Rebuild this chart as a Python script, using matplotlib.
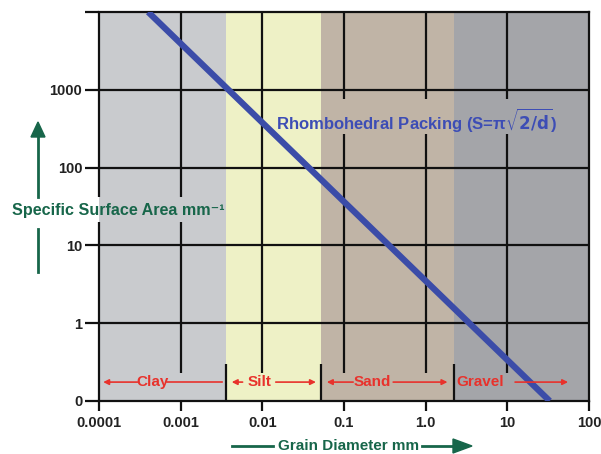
import matplotlib.pyplot as plt
import numpy as np

plt.rcParams['font.family'] = ['Liberation Sans', 'DejaVu Sans']

# band limits (mm) and colours
band_names = ['Clay', 'Silt', 'Sand', 'Gravel']
band_edges = [0.0001, 0.0036, 0.052, 2.2, 100]
band_colors = ['#c9cbce', '#eef1c6', '#c0b4a6', '#a4a5a9']

# rhombohedral packing line
d_line = [0.0004, 33]
s_line = [10000, 0.1]

xticks = [0.0001, 0.001, 0.01, 0.1, 1.0, 10, 100]
xlabels = ['0.0001', '0.001', '0.01', '0.1', '1.0', '10', '100']
yticks = [0.1, 1, 10, 100, 1000, 10000]
ylabels = ['0', '1', '10', '100', '1000', '']

W, H = 601, 454
fig = plt.figure(figsize=(W / 100, H / 100), dpi=100)
ax = fig.add_axes([99 / W, (H - 401) / H, 490 / W, 389 / H])
ax.set_xscale('log')
ax.set_yscale('log')
ax.set_xlim(0.0001, 100)
ax.set_ylim(0.1, 10000)

for i in range(4):
    ax.axvspan(band_edges[i], band_edges[i + 1], color=band_colors[i], lw=0, zorder=0)

# grid (broken where the labels cross it)
k = '#111111'
ax.hlines([1, 10, 100, 1000], 0.0001, 100, color=k, lw=1.6, zorder=1)
ax.vlines([0.0001], 0.1, 20, color=k, lw=1.6, zorder=2, clip_on=False)
ax.vlines([0.0001], 42, 10000, color=k, lw=1.6, zorder=2, clip_on=False)
ax.vlines([0.001], 0.23, 20, color=k, lw=1.6, zorder=1)
ax.vlines([0.001], 42, 10000, color=k, lw=1.6, zorder=1)
ax.vlines([0.01], 0.23, 10000, color=k, lw=1.6, zorder=1)
ax.vlines([0.1, 1.0, 10], 0.23, 270, color=k, lw=1.6, zorder=1)
ax.vlines([0.1, 1.0, 10], 760, 10000, color=k, lw=1.6, zorder=1)
# boundary markers
ax.vlines(band_edges[1:4], 0.1, 0.3, color=k, lw=1.6, zorder=1)

ax.plot(d_line, s_line, color='#3b4ca8', lw=4.5, solid_capstyle='butt', zorder=3)

ax.text(0.0148, 410, r'Rhombohedral Packing (S=π$\sqrt{\mathbf{2/d}}$)', color='#3d4db5',
        fontsize=12, fontweight='bold', va='center', ha='left', zorder=4)

# band labels with arrows
red = '#e8322c'
yr = 0.175
fs_band = 11
aprops = dict(arrowstyle='-|>', color=red, lw=1.2, mutation_scale=8)
ax.annotate('', xy=(0.000104, yr), xytext=(0.00032, yr), arrowprops=aprops)
ax.text(0.00045, yr, band_names[0], color=red, fontsize=fs_band, fontweight='bold', ha='center', va='center')
ax.plot([0.00068, 0.0032], [yr, yr], color=red, lw=1.2)
ax.annotate('', xy=(0.0039, yr), xytext=(0.0062, yr), arrowprops=aprops)
ax.text(0.0092, yr, band_names[1], color=red, fontsize=fs_band, fontweight='bold', ha='center', va='center')
ax.annotate('', xy=(0.049, yr), xytext=(0.0135, yr), arrowprops=aprops)
ax.annotate('', xy=(0.057, yr), xytext=(0.14, yr), arrowprops=aprops)
ax.text(0.22, yr, band_names[2], color=red, fontsize=fs_band, fontweight='bold', ha='center', va='center')
ax.annotate('', xy=(2.0, yr), xytext=(0.37, yr), arrowprops=aprops)
ax.text(2.4, yr, band_names[3], color=red, fontsize=fs_band, fontweight='bold', ha='left', va='center')
ax.annotate('', xy=(60, yr), xytext=(11.5, yr), arrowprops=aprops)

# axes styling
for side in ['top', 'right', 'bottom']:
    ax.spines[side].set_linewidth(1.6)
    ax.spines[side].set_color(k)
ax.spines['left'].set_visible(False)
ax.set_xticks(xticks)
ax.set_xticklabels(xlabels)
ax.set_yticks(yticks)
ax.set_yticklabels(ylabels)
ax.minorticks_off()
ax.tick_params(axis='y', length=10, width=1.6, color=k, labelsize=10.5, pad=2)
ax.tick_params(axis='x', length=7, width=1.6, color=k, labelsize=10.5, pad=4)
for lab in ax.get_xticklabels() + ax.get_yticklabels():
    lab.set_fontweight('bold')
    lab.set_color('#222222')

# axis titles with green arrows
green = '#17664a'
fig.text(12 / W, 1 - 211 / H, 'Specific Surface Area mm⁻¹', color=green, fontsize=11.6,
         fontweight='bold', ha='left', va='center', zorder=5)
fig.add_artist(plt.Line2D([38 / W, 38 / W], [1 - 272 / H, 1 - 229 / H], color=green, lw=2))
fig.add_artist(plt.Line2D([38 / W, 38 / W], [1 - 197 / H, 1 - 135 / H], color=green, lw=2))
fig.patches.append(plt.Polygon([[31 / W, 1 - 137 / H], [45 / W, 1 - 137 / H], [38 / W, 1 - 122 / H]],
                               closed=True, color=green, transform=fig.transFigure))

fig.text(278 / W, 1 - 446 / H, 'Grain Diameter mm', color=green, fontsize=11,
         fontweight='bold', ha='left', va='center')
fig.add_artist(plt.Line2D([232 / W, 273 / W], [1 - 446 / H, 1 - 446 / H], color=green, lw=2))
fig.add_artist(plt.Line2D([422 / W, 455 / W], [1 - 446 / H, 1 - 446 / H], color=green, lw=2))
fig.patches.append(plt.Polygon([[453 / W, 1 - 439 / H], [453 / W, 1 - 453 / H], [472 / W, 1 - 446 / H]],
                               closed=True, color=green, transform=fig.transFigure))

fig.savefig('out.png', dpi=100)
